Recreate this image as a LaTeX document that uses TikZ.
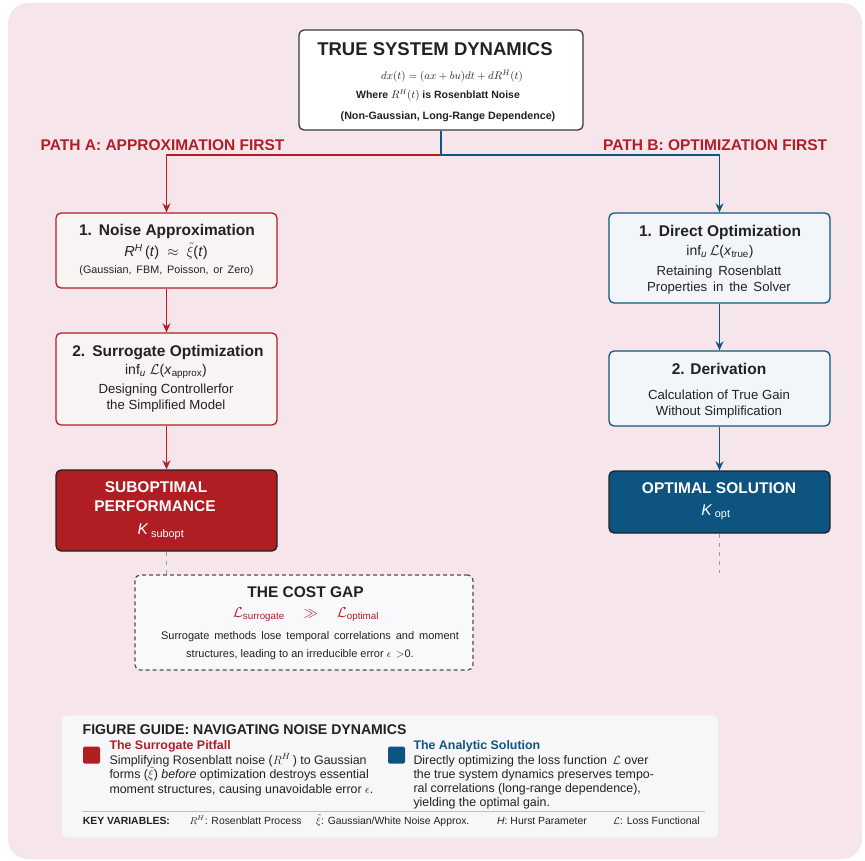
\documentclass[tikz,border=0pt]{standalone}
\usepackage[no-math]{fontspec}
\setmainfont{Liberation Sans}
\usetikzlibrary{arrows.meta}
\definecolor{bgpink}{RGB}{246,230,236}
\definecolor{redc}{RGB}{178,30,38}
\definecolor{bluec}{RGB}{16,86,128}
\definecolor{lfill}{RGB}{249,244,244}
\definecolor{rfill}{RGB}{242,246,250}
\definecolor{gfill}{RGB}{247,247,250}
\definecolor{cfill}{RGB}{249,249,251}
\definecolor{ink}{RGB}{34,34,34}
\definecolor{subred}{RGB}{176,30,36}
\definecolor{optblue}{RGB}{14,84,128}
\newcommand\fsz[2]{\fontsize{#1}{#2}\selectfont}
\newcommand\txi{\smash{$\tilde{\xi}$}}
\tikzset{
  txt/.style={inner sep=0pt, anchor=base, text=ink},
  txtw/.style={inner sep=0pt, anchor=base west, text=ink},
  boxbase/.style={rectangle, rounded corners=5pt, line width=1.3pt, inner sep=0pt},
  lbox/.style={boxbase, draw=redc, fill=lfill, minimum width=221pt},
  rbox/.style={boxbase, draw=bluec, fill=rfill, minimum width=221pt},
  redarrow/.style={draw=redc, line width=1.6pt, -{Stealth[length=9pt,width=8pt]}},
  bluearrow/.style={draw=bluec, line width=1.6pt, -{Stealth[length=9pt,width=8pt]}},
  blueline/.style={draw=bluec, line width=1.6pt},
  graydash/.style={draw=gray!80, line width=1.3pt, dash pattern=on 4pt off 5pt},
}
\begin{document}
\begin{tikzpicture}[x=1pt,y=-1pt]
\useasboundingbox (0,0) rectangle (865,860);
\fill[white] (0,0) rectangle (865,860);
\fill[bgpink, rounded corners=20pt] (8,3) rectangle (862,859);

% top box
\node[boxbase, draw=ink!90, fill=white, minimum width=284pt, minimum height=100pt] (top) at (441,80) {};
\node[txt, font=\fsz{18.5}{22}\bfseries] (toptitle) at (435,55) {TRUE SYSTEM DYNAMICS};
\node[txt, font=\fsz{11.3}{13}] (topeq) at (452,79) {$dx(t) = (ax+ bu)dt + dR^{H}(t)$};
\node[txt, font=\fsz{10.5}{13}\bfseries] (topwhere) at (438,98) {Where $R^{H}(t)$ is Rosenblatt Noise};
\node[txt, font=\fsz{10.7}{13}\bfseries] (topng) at (448,119.5) {(Non-Gaussian, Long-Range Dependence)};

% path labels
\node[txtw, text=redc, font=\fsz{15.5}{18}\bfseries] (pathA) at (40.5,150) {PATH A: APPROXIMATION FIRST};
\node[txtw, text=redc, font=\fsz{15.5}{18}\bfseries] (pathB) at (603,150) {PATH B: OPTIMIZATION FIRST};

% left column
\node[lbox, minimum height=75pt] (l1) at (166.5,250.5) {};
\node[txt, font=\fsz{15.5}{18}\bfseries] (l1a) at (167,235.5) {1.\hspace{0.45em}Noise Approximation};
\node[txt, font=\fsz{14.5}{17}] (l1b) at (166,256.5) {\textit{R}\textsuperscript{\textit{H}}\,(\textit{t})\; $\approx$\; \txi(\textit{t})};
\node[txt, font=\fsz{10.8}{13}] (l1c) at (166.5,273) {(Gaussian,\, FBM,\, Poisson,\, or\, Zero)};

\node[lbox, minimum height=92pt] (l2) at (166.5,379) {};
\node[txt, font=\fsz{15.5}{18}\bfseries] (l2a) at (168,356.5) {2.\hspace{0.45em}Surrogate Optimization};
\node[txt, font=\fsz{14}{17}] (l2b) at (166,374.5) {inf\textsubscript{\textit{u}} $\mathcal{L}$(\textit{x}\textsubscript{approx})};
\node[txt, font=\fsz{13.2}{16}] (l2c) at (166,393.5) {Designing Controllerfor};
\node[txt, font=\fsz{13.2}{16}] (l2d) at (166,409) {the Simplified Model};

\node[boxbase, draw=ink, fill=subred, minimum width=221pt, minimum height=81pt] (sub) at (166.5,510.5) {};
\node[txt, text=white, font=\fsz{15.5}{18}\bfseries] (suba) at (156,492.5) {SUBOPTIMAL};
\node[txt, text=white, font=\fsz{15.5}{18}\bfseries] (subb) at (155,511.5) {PERFORMANCE};
\node[txt, text=white, font=\fsz{15.5}{18}] (subc) at (161,534.5) {\textit{K}\,\textsubscript{subopt}};

% right column
\node[rbox, minimum height=90pt] (r1) at (719.5,258) {};
\node[txt, font=\fsz{15.5}{18}\bfseries] (r1a) at (720,236) {1.\hspace{0.45em}Direct Optimization};
\node[txt, font=\fsz{14}{17}] (r1b) at (720,255.5) {inf\textsubscript{\textit{u}}\,$\mathcal{L}$(\textit{x}\textsubscript{true})};
\node[txt, font=\fsz{13.2}{16}] (r1c) at (719,275) {Retaining\, Rosenblatt};
\node[txt, font=\fsz{13.2}{16}] (r1d) at (719,291) {Properties\, in\, the\, Solver};

\node[rbox, minimum height=75pt] (r2) at (719.5,388.5) {};
\node[txt, font=\fsz{15.5}{18}\bfseries] (r2a) at (719,374.5) {2. Derivation};
\node[txt, font=\fsz{13.2}{16}] (r2b) at (719,399) {Calculation of True Gain};
\node[txt, font=\fsz{13.2}{16}] (r2c) at (719,415) {Without Simplification};

\node[boxbase, draw=ink, fill=optblue, minimum width=221pt, minimum height=62pt] (opt) at (719.5,502) {};
\node[txt, text=white, font=\fsz{15.5}{18}\bfseries] (opta) at (719,493.5) {OPTIMAL SOLUTION};
\node[txt, text=white, font=\fsz{15.5}{18}] (optb) at (716,515.5) {\textit{K}\,\textsubscript{opt}};

% connectors
\coordinate (split) at (top.south |- 0,155);
\draw[blueline] (top.south) -- (split);
\draw[redarrow] (split) -| (l1.north);
\draw[bluearrow] (split) -| (r1.north);
\draw[redarrow] (l1.south) -- (l2.north);
\draw[redarrow] (l2.south) -- (sub.north);
\draw[bluearrow] (r1.south) -- (r2.north);
\draw[bluearrow] (r2.south) -- (opt.north);

% cost gap
\node[boxbase, draw=ink!80, fill=cfill, line width=1.2pt, dash pattern=on 4pt off 3pt, minimum width=338pt, minimum height=95pt] (gap) at (304,622.5) {};
\coordinate (gapin) at (sub.south |- gap.north);
\draw[graydash] (sub.south) -- (gapin);
\coordinate (optend) at (opt.south |- 0,573);
\draw[graydash] (opt.south) -- (optend);
\node[txt, font=\fsz{15.5}{18}\bfseries] (gapa) at (305.5,597) {THE COST GAP};
\node[txt, text=redc, font=\fsz{14}{17}] (gapb) at (306,617.5) {$\mathcal{L}$\textsubscript{surrogate}\hspace{1.35em}$\gg$\hspace{1.35em}$\mathcal{L}$\textsubscript{optimal}};
\node[txt, font=\fsz{11}{13}] (gapc) at (310,639) {Surrogate\, methods\, lose\, temporal\, correlations\, and\, moment};
\node[txt, font=\fsz{11}{13}] (gapd) at (300,657.5) {structures, leading to an irreducible error $\epsilon\,$ $>$0.};

% guide
\node[rectangle, rounded corners=6pt, fill=gfill, draw=black!8, line width=0.6pt, minimum width=657pt, minimum height=123pt, inner sep=0pt] (guide) at (390,776.5) {};
\node[txtw, font=\fsz{14.1}{17}\bfseries] (gtitle) at (82.5,734.5) {FIGURE GUIDE: NAVIGATING NOISE DYNAMICS};
\node[rectangle, fill=subred, rounded corners=1.5pt, minimum width=17pt, minimum height=17pt, inner sep=0pt] (redsq) at (91.5,755) {};
\node[rectangle, fill=optblue, rounded corners=1.5pt, minimum width=17pt, minimum height=17pt, inner sep=0pt] (bluesq) at (396.5,755) {};
\node[txtw, text=redc, font=\fsz{12.4}{15}\bfseries] (gl0) at (109.3,749) {The Surrogate Pitfall};
\node[txtw, font=\fsz{12.4}{15}] (gl1) at (109.3,764) {Simplifying Rosenblatt noise ($R^{H}$\,) to Gaussian};
\node[txtw, font=\fsz{12.4}{15}] (gl2) at (109.3,778.5) {forms (\txi) \textit{before} optimization destroys essential};
\node[txtw, font=\fsz{12.4}{15}] (gl3) at (109.3,793) {moment structures, causing unavoidable error $\epsilon$.};
\node[txtw, text=bluec, font=\fsz{12.4}{15}\bfseries] (gr0) at (413.3,749) {The Analytic Solution};
\node[txtw, font=\fsz{12.4}{15}] (gr1) at (413.3,764) {Directly optimizing the loss function \,$\mathcal{L}$ over};
\node[txtw, font=\fsz{12.4}{15}] (gr2) at (413.3,778.5) {the true system dynamics preserves tempo-};
\node[txtw, font=\fsz{12.4}{15}] (gr3) at (413.3,792.5) {ral correlations (long-range dependence),};
\node[txtw, font=\fsz{12.4}{15}] (gr4) at (413.3,806.5) {yielding the optimal gain.};
\coordinate (sepL) at (82,811.7);
\coordinate (sepR) at (705,811.7);
\draw[black!25, line width=0.8pt] (sepL) -- (sepR);
\node[txtw, font=\fsz{10.4}{12}\bfseries] (kv0) at (82.7,824.5) {KEY VARIABLES:};
\node[txtw, font=\fsz{10.4}{12}] (kv1) at (189.3,824.5) {$R^{H}$: Rosenblatt Process};
\node[txtw, font=\fsz{10.4}{12}] (kv2) at (316,824.5) {\txi: Gaussian/White Noise Approx.};
\node[txtw, font=\fsz{10.4}{12}] (kv3) at (497,824.5) {\textit{H}: Hurst Parameter};
\node[txtw, font=\fsz{10.4}{12}] (kv4) at (613,824.5) {$\mathcal{L}$: Loss Functional};
\end{tikzpicture}
\end{document}
